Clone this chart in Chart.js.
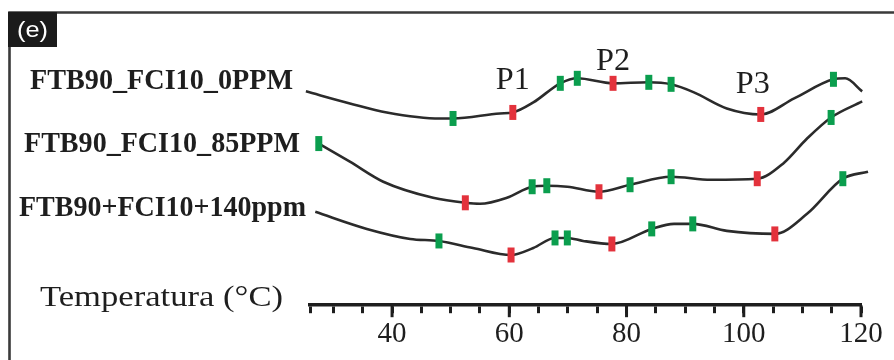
<!DOCTYPE html>
<html>
<head>
<meta charset="utf-8">
<script src="https://cdn.jsdelivr.net/npm/chart.js@4.4.1/dist/chart.umd.min.js"></script>
<style>
  html, body { margin: 0; padding: 0; background: #fff; }
  #wrap { width: 894px; height: 360px; }
</style>
</head>
<body>
<div id="wrap"><canvas id="dsc" width="894" height="360"></canvas></div>
<script>
// curves: temperature (°C) and relative height
const temp0 = [25.3, 32.8, 39.1, 48.2, 50.4, 58.4, 60.6, 64.1, 68.7, 71.6, 77.7, 83.8, 87.6, 91.5, 97.1, 102.9, 108.6, 115.3, 117.3, 120.2];
const val0  = [269, 257, 248, 242, 242, 247, 248, 258, 277, 282, 277, 278, 276, 268, 252, 246, 262, 281, 282, 269];

const temp85 = [27.5, 32.8, 38.5, 47.0, 52.5, 55.0, 59.6, 63.9, 66.4, 69.9, 75.3, 80.6, 87.6, 94.4, 102.3, 106.7, 110.8, 114.9, 120.2];
const val85  = [217, 199, 179, 163, 158, 157, 163, 174, 175, 174, 169, 176, 184, 181, 182, 197, 222, 243, 259];

const temp140 = [26.9, 35.7, 43.1, 48.0, 53.8, 60.3, 64.1, 67.8, 69.9, 72.6, 77.5, 84.3, 88.1, 91.3, 97.1, 105.3, 110.8, 116.9, 121.2];
const val140  = [149, 132, 122, 120, 113, 106, 113, 123, 123, 120, 117, 132, 137, 137, 130, 127, 147, 182, 189];

// markers on each curve: G = green mark, R = red (peak) mark
const mark0T = [50.4, 60.6, 68.7, 71.6, 77.7, 83.8, 87.6, 102.9, 115.3];
const mark0V = [242, 248, 277, 282, 277, 278, 276, 246, 281];
const mark0K = ['G', 'R', 'G', 'G', 'R', 'G', 'G', 'R', 'G'];

const mark85T = [27.5, 52.5, 63.9, 66.4, 75.3, 80.6, 87.6, 102.3, 114.9];
const mark85V = [217, 158, 174, 175, 169, 176, 184, 182, 243];
const mark85K = ['G', 'R', 'G', 'G', 'R', 'G', 'G', 'R', 'G'];

const mark140T = [48.0, 60.3, 67.8, 69.9, 77.5, 84.3, 91.3, 105.3, 116.9];
const mark140V = [120, 106, 123, 123, 117, 132, 137, 127, 182];
const mark140K = ['G', 'R', 'G', 'G', 'R', 'G', 'G', 'R', 'G'];

const seriesNames = ['FTB90_FCI10_0PPM', 'FTB90_FCI10_85PPM', 'FTB90+FCI10+140ppm'];
const peakNames = ['P1', 'P2', 'P3'];
const peakTemps = [60.6, 77.7, 102.9];
const peakVals = [248, 277, 246];

const xTicks = [26, 30, 35, 40, 45, 50, 55, 60, 65, 70, 75, 80, 85, 90, 95, 100, 105, 110, 115, 120];
const xLabels = [40, 60, 80, 100, 120];

const GREEN = '#0b9e4e';
const RED = '#e3323c';
const INK = '#1e1e1e';

function pts(xs, ys) {
  return xs.map((x, i) => ({ x: x, y: ys[i] }));
}

function curve(xs, ys) {
  return {
    type: 'line',
    data: pts(xs, ys),
    borderColor: '#2b2b2b',
    borderWidth: 2.6,
    cubicInterpolationMode: 'monotone',
    pointRadius: 0,
    fill: false,
    clip: false,
    order: 2
  };
}

function marks(xs, ys, kinds) {
  return {
    type: 'line',
    data: pts(xs, ys),
    showLine: false,
    pointStyle: 'line',
    rotation: 90,
    pointRadius: 7.5,
    pointHoverRadius: 7.5,
    pointBorderWidth: 7,
    pointBorderColor: kinds.map(k => k === 'R' ? RED : GREEN),
    clip: false,
    order: 1
  };
}

function fitText(ctx, text, x, y, w) {
  const m = ctx.measureText(text).width;
  ctx.save();
  ctx.translate(x, y);
  ctx.scale(w / m, 1);
  ctx.fillText(text, 0, 0);
  ctx.restore();
}

const decor = {
  id: 'decor',
  beforeDraw(chart) {
    const ctx = chart.ctx;
    ctx.save();
    ctx.fillStyle = '#fff';
    ctx.fillRect(0, 0, chart.width, chart.height);
    ctx.strokeStyle = '#3a3a3a';
    ctx.lineWidth = 2.6;
    ctx.beginPath();
    ctx.moveTo(9.5, 360);
    ctx.lineTo(9.5, 12.5);
    ctx.lineTo(894, 12.5);
    ctx.stroke();
    ctx.fillStyle = '#1b1b1b';
    ctx.fillRect(8, 12, 49, 35);
    ctx.fillStyle = '#fff';
    ctx.font = '22px "Liberation Sans", Arial, sans-serif';
    ctx.textBaseline = 'alphabetic';
    fitText(ctx, '(e)', 17, 37, 31);
    ctx.restore();
  },
  afterDraw(chart) {
    const ctx = chart.ctx;
    const xs = chart.scales.x;
    const ys = chart.scales.y;
    ctx.save();
    // longer major ticks
    ctx.strokeStyle = INK;
    ctx.lineWidth = 3;
    xLabels.forEach(v => {
      const px = xs.getPixelForValue(v);
      ctx.beginPath();
      ctx.moveTo(px, chart.chartArea.bottom);
      ctx.lineTo(px, chart.chartArea.bottom + 12);
      ctx.stroke();
    });
    ctx.fillStyle = INK;
    ctx.textBaseline = 'alphabetic';
    ctx.font = 'bold 29px "Liberation Serif", "Times New Roman", serif';
    const lab = [[30, 89, 263], [24, 152, 276], [19, 216, 287]];
    seriesNames.forEach((s, i) => fitText(ctx, s, lab[i][0], lab[i][1], lab[i][2]));
    ctx.font = '30px "Liberation Serif", "Times New Roman", serif';
    fitText(ctx, 'Temperatura (°C)', 40, 306, 243);
    // peak labels above the red marks of the top curve
    ctx.font = '31px "Liberation Serif", "Times New Roman", serif';
    const off = [[-17, -23], [-17, -13], [-25, -21]];
    peakNames.forEach((p, i) => {
      const px = xs.getPixelForValue(peakTemps[i]);
      const py = ys.getPixelForValue(peakVals[i]);
      fitText(ctx, p, px + off[i][0], py + off[i][1], 34);
    });
    ctx.restore();
  }
};

new Chart(document.getElementById('dsc'), {
  type: 'line',
  data: {
    datasets: [
      curve(temp0, val0),
      curve(temp85, val85),
      curve(temp140, val140),
      marks(mark0T, mark0V, mark0K),
      marks(mark85T, mark85V, mark85K),
      marks(mark140T, mark140V, mark140K)
    ]
  },
  options: {
    responsive: false,
    animation: false,
    events: [],
    layout: { autoPadding: false, padding: { left: 310, right: 33, top: 0, bottom: 4 } },
    plugins: { legend: { display: false }, tooltip: { enabled: false } },
    scales: {
      x: {
        type: 'linear',
        min: 26,
        max: 120,
        afterBuildTicks: (scale) => { scale.ticks = xTicks.map(v => ({ value: v })); },
        border: { display: true, color: INK, width: 3.5 },
        grid: { display: true, drawOnChartArea: false, drawTicks: true, tickLength: 8, tickWidth: 3, tickColor: INK },
        ticks: {
          autoSkip: false,
          maxRotation: 0,
          padding: 4,
          color: INK,
          font: { family: '"Liberation Serif", "Times New Roman", serif', size: 29 },
          callback: (v) => xLabels.includes(v) ? String(v) : ''
        }
      },
      y: { type: 'linear', display: false, min: 56, max: 360 }
    }
  },
  plugins: [decor]
});
</script>
</body>
</html>
